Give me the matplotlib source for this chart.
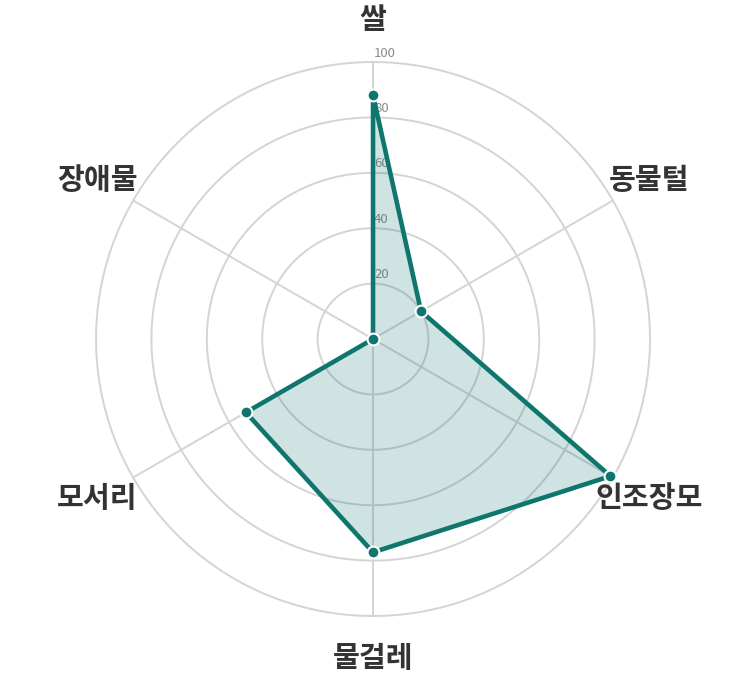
import numpy as np
import matplotlib
matplotlib.use("Agg")
import matplotlib.pyplot as plt

plt.rcParams['font.family'] = ['Noto Sans CJK KR', 'DejaVu Sans']

categories = ['쌀', '동물털', '인조장모', '물걸레', '모서리', '장애물']
values = [88, 20, 99, 77, 53, 0]
rticks = [20, 40, 60, 80, 100]

color = '#0f766e'
fig = plt.figure(figsize=(7.45, 6.75), dpi=100)
ax = fig.add_axes([0.1289, 0.0874, 0.7436, 0.8207], projection='polar')
ax.set_theta_zero_location('N')
ax.set_theta_direction(-1)

n = len(categories)
angles = np.arange(n) * 2 * np.pi / n
ang_c = np.concatenate([angles, angles[:1]])
val_c = np.concatenate([values, values[:1]])

ax.set_ylim(0, 100)
ax.set_yticks([])
ax.set_xticks([])
ax.grid(False)
ax.spines['polar'].set_visible(False)

# grid circles
th = np.linspace(0, 2 * np.pi, 400)
for r in rticks:
    ax.plot(th, np.full_like(th, r), color='#d4d4d4', lw=1.4, zorder=1, clip_on=False)
for a in angles:
    ax.plot([a, a], [0, 100], color='#d4d4d4', lw=1.4, zorder=1, clip_on=False)

for r in rticks:
    ax.annotate(str(r), xy=(0, r), xytext=(1, 9), textcoords='offset pixels',
                ha='left', va='center', fontsize=9.5, color='#8a8a8a', zorder=2)

ax.fill(ang_c, val_c, color=color, alpha=0.2, zorder=3, lw=0)
ax.plot(ang_c, val_c, color=color, lw=3.3, zorder=4, solid_joinstyle='miter', clip_on=False)
ax.plot(angles, values, 'o', color=color, markersize=8.5,
        markeredgecolor='white', markeredgewidth=1.5, zorder=5, clip_on=False)

for a, c in zip(angles, categories):
    ax.text(a, 115, c, ha='center', va='center', fontsize=21,
            fontweight='bold', color='#333333')

fig.savefig('out.png', dpi=100)
